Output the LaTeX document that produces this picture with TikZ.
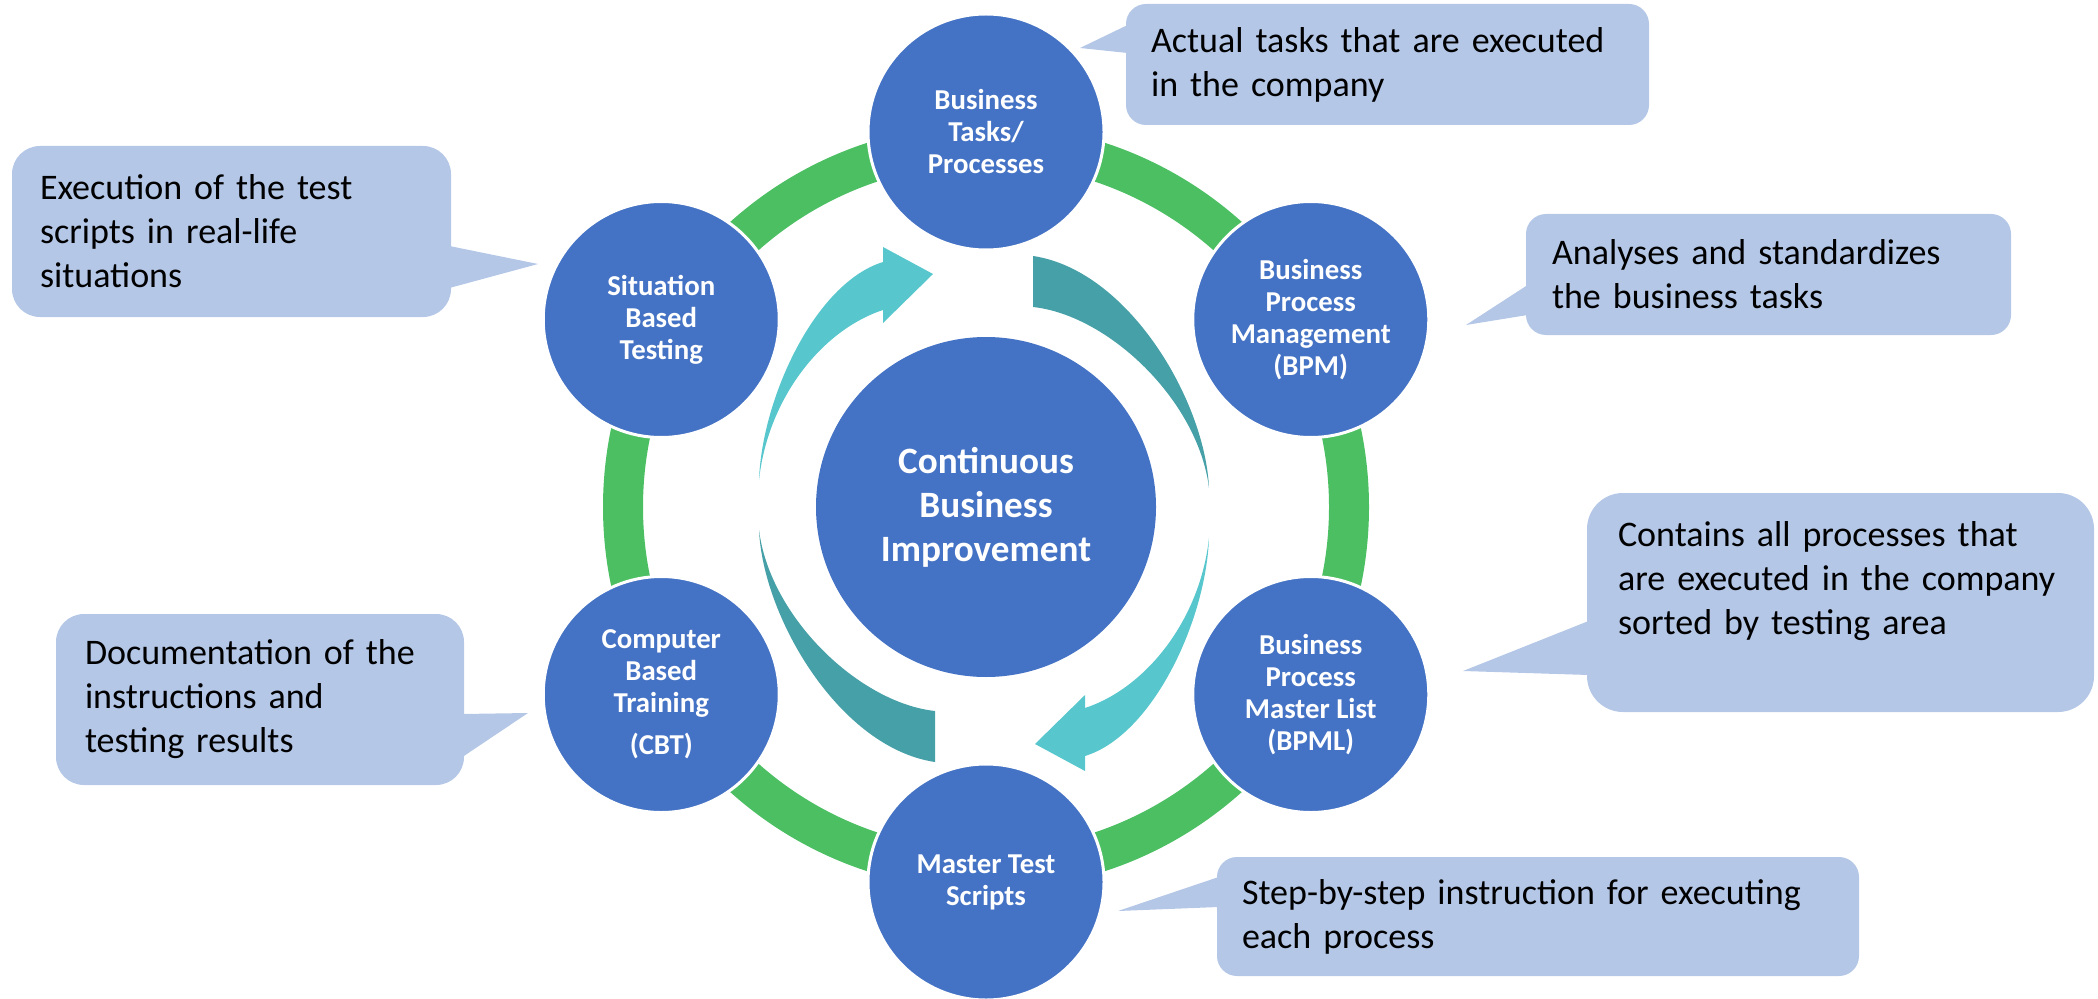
\documentclass[tikz,border=0pt]{standalone}
\usepackage{fontspec}
\setmainfont{Carlito}
\usepackage{tikz}
\usetikzlibrary{calc}
\usepackage{xcolor}
\definecolor{stageblue}{HTML}{4472C4}
\definecolor{ringgreen}{HTML}{4BBF62}
\definecolor{flowcyan}{HTML}{57C7CD}
\definecolor{flowteal}{HTML}{46A0A7}
\definecolor{notefill}{HTML}{B4C7E7}

\begin{document}
\begin{tikzpicture}[x=0.5pt, y=0.5pt,
    stage/.style={circle, minimum size=118pt, inner sep=0pt, fill=stageblue, draw=white, line width=1.5pt,
        text=white, align=center, font=\bfseries\fontsize{14.4}{16}\selectfont},
    hub/.style={circle, minimum size=170pt, inner sep=0pt, fill=stageblue,
        text=white, align=center, font=\bfseries\fontsize{18.6}{22}\selectfont},
    note/.style={rectangle, fill=notefill, inner ysep=0pt, align=left, font=\fontsize{18}{22}\selectfont},
    pointer/.style={fill=notefill}]
    \useasboundingbox (0,0) rectangle (2098,998);
        \coordinate (o) at (986,491);
        \draw[ringgreen, line width=20pt] (o) circle (363);
        \fill[flowcyan] (759,518) .. controls (762,600) and (815,715) .. (883,736) -- (883,751) -- (933,724)
            -- (883,675) -- (883,688) .. controls (822,668) and (768,600) .. (759,518) -- cycle;
        \fill[flowteal] (759,468) .. controls (763,380) and (840,250) .. (935,236) -- (935,287)
            .. controls (860,295) and (770,380) .. (759,468) -- cycle;
        \fill[flowcyan, rotate around={180:(984,489)}] (759,518) .. controls (762,600) and (815,715) .. (883,736) -- (883,751) -- (933,724)
            -- (883,675) -- (883,688) .. controls (822,668) and (768,600) .. (759,518) -- cycle;
        \fill[flowteal, rotate around={180:(984,489)}] (759,468) .. controls (763,380) and (840,250) .. (935,236) -- (935,287)
            .. controls (860,295) and (770,380) .. (759,468) -- cycle;
        \node (cbi) [hub] at (o) {Continuous\\Business\\Improvement};
        \node (tasks) [stage] at ($(o)+(90:375)$) {Business\\Tasks/\\Processes};
        \node (bpm) [stage] at ($(o)+(30:375)$) {Business\\Process\\Management\\(BPM)};
        \node (bpml) [stage] at ($(o)+(-30:375)$) {Business\\Process\\Master List\\(BPML)};
        \node (mts) [stage] at ($(o)+(-90:375)$) {Master Test\\Scripts};
        \node (cbt) [stage] at ($(o)+(210:375)$) {Computer\\Based\\Training\\[5pt](CBT)};
        \node (sbt) [stage] at ($(o)+(150:375)$) {Situation\\Based\\Testing};
        \node (n1) [note, rounded corners=10pt, minimum width=261.5pt, minimum height=60.5pt, inner xsep=12.5pt, text width=236.5pt]
            at (1387.5,933.5) {Actual tasks that are executed\\in the company};
        \node (n2) [note, rounded corners=10pt, minimum width=242.5pt, minimum height=60.5pt, inner xsep=13pt, text width=216.5pt]
            at (1768.5,723.5) {Analyses and standardizes\\the business tasks};
        \node (n3) [note, rounded corners=18pt, minimum width=253.5pt, minimum height=109.5pt, inner xsep=15.5pt, text width=222.5pt,
            text depth=68.5pt] at (1840.5,395.5) {Contains all processes that\\are executed in the company\\sorted by testing area};
        \node (n4) [note, rounded corners=10pt, minimum width=321pt, minimum height=59.5pt, inner xsep=12.5pt, text width=296pt]
            at (1538,81.5) {Step-by-step instruction for executing\\each process};
        \node (n5) [note, rounded corners=14pt, minimum width=219.5pt, minimum height=85.5pt, inner xsep=14pt, text width=191.5pt]
            at (231.5,766.5) {Execution of the test\\scripts in real-life\\situations};
        \node (n6) [note, rounded corners=14pt, minimum width=204pt, minimum height=85.5pt, inner xsep=14.5pt, text width=175pt]
            at (260,298.5) {Documentation of the\\instructions and\\testing results};
        \coordinate (t1) at (1080,950);
        \coordinate (t2) at (1466,673);
        \coordinate (t3) at (1463,327);
        \coordinate (t4) at (1118,87);
        \coordinate (t5) at (538,734);
        \coordinate (t6) at (528,285);
        \fill[pointer] ($(n1.west)+(2,39.5)$) -- (t1) -- ($(n1.west)+(2,11.5)$) -- cycle;
        \fill[pointer] ($(n2.west)+(2,-10.5)$) -- (t2) -- ($(n2.west)+(2,-40.5)$) -- cycle;
        \fill[pointer] ($(n3.west)+(2,-18.5)$) -- (t3) -- ($(n3.west)+(2,-72.5)$) -- cycle;
        \fill[pointer] ($(n4.west)+(2,39.5)$) -- (t4) -- ($(n4.west)+(2,9.5)$) -- cycle;
        \fill[pointer] ($(n5.east)+(-2,-14.5)$) -- (t5) -- ($(n5.east)+(-2,-56.5)$) -- cycle;
        \fill[pointer] ($(n6.east)+(-2,-14.5)$) -- (t6) -- ($(n6.east)+(-2,-57.5)$) -- cycle;
    \end{tikzpicture}
\end{document}
